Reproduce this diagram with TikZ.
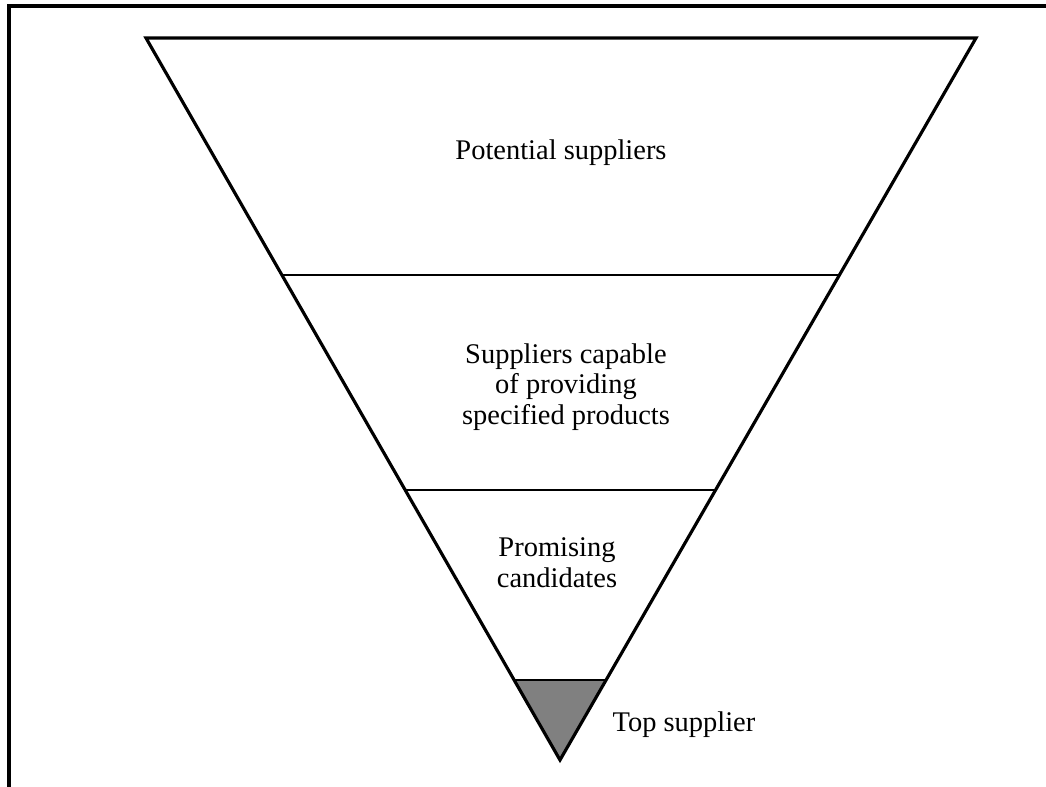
\documentclass[tikz,border=0pt]{standalone}
\usepackage{fontspec}
\setmainfont{Liberation Serif}
\tikzset{
  label/.style={align=center, font=\fontsize{16.2}{17.5}\selectfont, inner sep=0pt},
  level/.style={line width=1.6pt},
}
\begin{document}
\begin{tikzpicture}[x=0.02cm, y=-0.02cm]
    \useasboundingbox (0,0) rectangle (1046,787);
    \clip (0,0) rectangle (1046,787);
    \draw[line width=2pt] (9,6) rectangle (1070,810);
    \fill[gray] (514,680) -- (607,680) -- (560,760) -- cycle;
    \draw[line width=1.8pt, line join=miter] (146,38) -- (976,38) -- (560,760) -- cycle;
    \draw[level] (283,275) -- (839,275);
    \draw[level] (405,490) -- (716,490);
    \draw[level] (514,680) -- (607,680);
    \node[label] (potential) at (561,153) {Potential suppliers};
    \node[label] (capable) at (566,387) {Suppliers capable\\of providing\\specified products};
    \node[label] (promising) at (557,563) {Promising\\candidates};
    \node[label] (top) at (684,725) {Top supplier};
\end{tikzpicture}
\end{document}
